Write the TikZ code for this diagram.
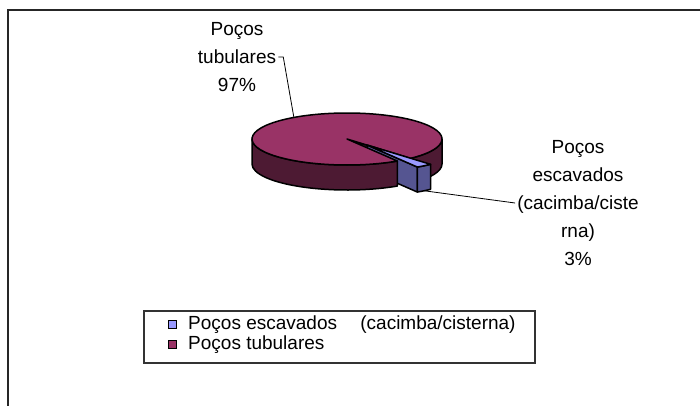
\documentclass[tikz,border=0pt]{standalone}
\usepackage{fontspec}
\setmainfont{Liberation Sans}
\definecolor{plumtop}{RGB}{153,51,102}
\definecolor{plumside}{RGB}{77,26,51}
\definecolor{bluetop}{RGB}{153,153,255}
\definecolor{blueside}{RGB}{85,85,145}
\begin{document}
\begin{tikzpicture}[x = 1pt, y = 1pt, font = \fontsize{19}{28}\selectfont,
        face/.style = {draw = black, line width = 1.5pt, line join = round},
        leader/.style = {draw = black, line width = 0.8pt},
        lbl/.style = {align = center, inner sep = 2pt},
        key/.style = {draw = black, line width = 0.8pt, minimum size = 8pt, inner sep = 0pt}]
    \useasboundingbox (0, 0) rectangle (700, 405);
    \draw[black!85, line width = 2pt] (8, -10) -- (8, 395) -- (710, 395);

    \begin{scope}[shift = {(347, 266)}]
        \filldraw[fill = plumside, face] (0, 0) -- (-48:95 and 26) -- ++(0, -25) -- (0, -25) -- cycle;
        \filldraw[fill = plumside, face] (-48:95 and 26) arc[start angle = -48, end angle = 0, x radius = 95, y radius = 26]
            -- ++(0, -25) arc[start angle = 0, end angle = -48, x radius = 95, y radius = 26] -- cycle;
    \end{scope}
    \begin{scope}[shift = {(367, 260)}]
        \filldraw[fill = blueside, face] (0, 0) -- (-58:95 and 26) -- ++(0, -25) -- (0, -25) -- cycle;
    \end{scope}
    \begin{scope}[shift = {(347, 266)}]
        \filldraw[fill = plumside, face] (180:95 and 26) arc[start angle = 180, end angle = 302, x radius = 95, y radius = 26]
            -- ++(0, -25) arc[start angle = 302, end angle = 180, x radius = 95, y radius = 26] -- cycle;
        \filldraw[fill = plumtop, face] (0, 0) -- (-48:95 and 26)
            arc[start angle = -48, end angle = 302, x radius = 95, y radius = 26] -- cycle;
        \coordinate (pA) at (124:95 and 26);
    \end{scope}
    \begin{scope}[shift = {(367, 260)}]
        \filldraw[fill = blueside, face] (-58:95 and 26) arc[start angle = -58, end angle = -48, x radius = 95, y radius = 26]
            -- ++(0, -25) arc[start angle = -48, end angle = -58, x radius = 95, y radius = 26] -- cycle;
        \filldraw[fill = bluetop, face] (0, 0) -- (-58:95 and 26)
            arc[start angle = -58, end angle = -48, x radius = 95, y radius = 26] -- cycle;
        \path (-53:95 and 26) ++(0, -25) coordinate (pB);
    \end{scope}

    \node[lbl] (tubLbl) at (237, 348) {Poços\\tubulares\\97\%};
    \draw[leader] (tubLbl.east) -- ++(5, 0) -- (pA);
    \node[lbl] (escLbl) at (578, 202) {Poços\\escavados\\(cacimba/ciste\\rna)\\3\%};
    \draw[leader] (pB) -- (escLbl.west);

    \draw[black!80, line width = 1.2pt] (144, 94) rectangle (535, 42);
    \node[key, fill = bluetop] (keyEsc) at (172.5, 80.5) {};
    \node[key, fill = plumtop] (keyTub) at (172.5, 61) {};
    \node[anchor = base west, inner sep = 0pt] (txtEsc) at (188, 76) {Poços escavados\hspace{18pt} (cacimba/cisterna)};
    \node[anchor = base west, inner sep = 0pt] (txtTub) at (188, 56) {Poços tubulares};
\end{tikzpicture}
\end{document}
